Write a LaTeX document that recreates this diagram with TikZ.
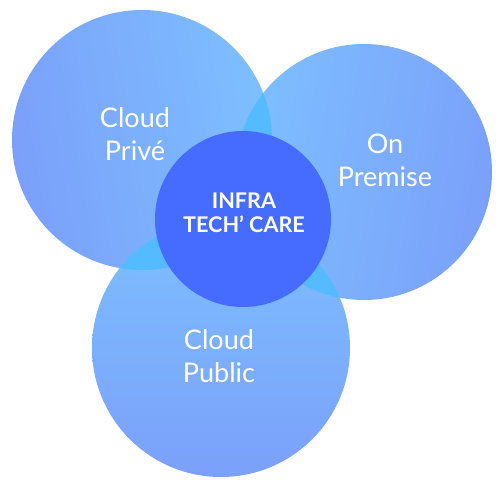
\documentclass[tikz,border=0pt]{standalone}
\usepackage{fontspec}
\setmainfont{Lato}
\definecolor{zonedark}{HTML}{7BA0FA}
\definecolor{zonelight}{HTML}{7DBFFF}
\definecolor{zonemix}{HTML}{55BBFF}
\definecolor{coreblue}{HTML}{456BFF}

\begin{document}
\begin{tikzpicture}[x=0.02cm,y=0.02cm,
  zone/.style={top color=zonelight,bottom color=zonedark},
  zonetext/.style={text=white,align=center,font=\fontsize{15.4}{18.8}\selectfont},
  coretext/.style={text=white,align=center,font=\bfseries\fontsize{12.3}{13.8}\selectfont}]
\useasboundingbox (0,0) rectangle (500,493);
% the three zones
\shade[zone,shading angle=-80] (142,353) circle (130);
\shade[zone,shading angle=80] (364,321) circle (128);
\shade[zone,shading angle=0] (221,145) circle (129);
% where two zones meet
\begin{scope}
\clip (142,353) circle (130);
\fill[zonemix] (364,321) circle (128);
\fill[zonemix] (221,145) circle (129);
\end{scope}
\begin{scope}
\clip (364,321) circle (128);
\fill[zonemix] (221,145) circle (129);
\end{scope}
% core
\fill[coreblue] (243,274) circle (88);
\node[zonetext] (prive) at (135,359) {Cloud\\Privé};
\node[zonetext] (premise) at (385,333) {On\\Premise};
\node[zonetext] (public) at (219,137) {Cloud\\Public};
\node[coretext] (core) at (244,280) {INFRA\\TECH’ CARE};
\end{tikzpicture}
\end{document}
